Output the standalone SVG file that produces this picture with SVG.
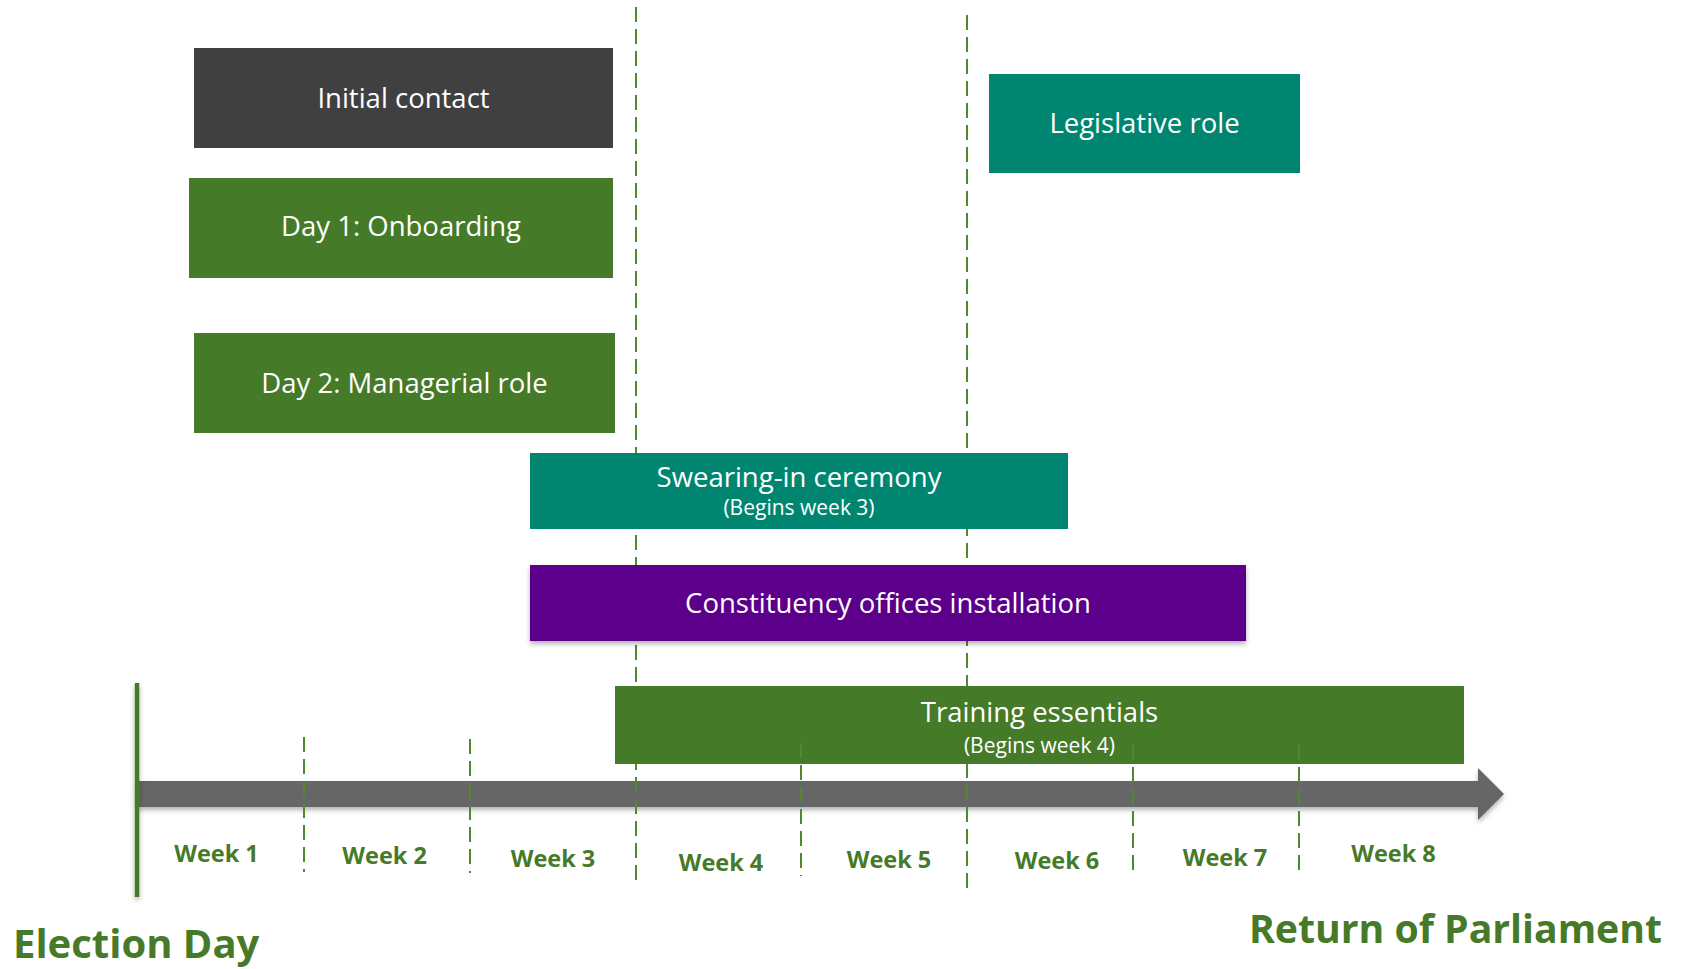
<svg xmlns="http://www.w3.org/2000/svg" width="1682" height="969" viewBox="0 0 1682 969">
<defs>
<style>
.box-text{font-family:"Open Sans","Noto Sans",sans-serif;fill:#ffffff;font-size:27.5px;text-anchor:middle}
.sub-text{font-family:"Open Sans","Noto Sans",sans-serif;fill:#ffffff;font-size:21px;text-anchor:middle}
.week{font-family:"Open Sans","Noto Sans",sans-serif;fill:#467a28;font-size:23.5px;font-weight:bold;text-anchor:middle}
.big{font-family:"Open Sans","Noto Sans",sans-serif;fill:#467a28;font-size:40px;font-weight:bold}
.dash{stroke:#4f8a2e;stroke-width:2;stroke-dasharray:15 7;fill:none}
.green{fill:#457a28}
.teal{fill:#008670}
.purple{fill:#5c068c}
.dark{fill:#404040}
</style>
<filter id="shadow" filterUnits="userSpaceOnUse" x="0" y="0" width="1682" height="969">
<feDropShadow dx="0" dy="3" stdDeviation="2.5" flood-color="#000000" flood-opacity="0.3"/>
</filter>
</defs>
<rect width="1682" height="969" fill="#ffffff"/>

<g id="timeline-axis">
<polygon points="137,781 1478,781 1478,768 1504,794 1478,820 1478,807 137,807" fill="#666666" filter="url(#shadow)"/>
<rect x="134.8" y="683" width="4.5" height="214" fill="#457a28" filter="url(#shadow)"/>
</g>

<g id="connectors">
<line class="dash" x1="636" y1="7" x2="636" y2="880"/>
<line class="dash" x1="967" y1="15" x2="967" y2="888"/>
<line class="dash" x1="304" y1="737" x2="304" y2="872"/>
<line class="dash" x1="470" y1="739" x2="470" y2="873"/>
</g>

<g id="initial-contact">
<rect class="dark" x="194" y="48" width="419" height="100"/>
<text class="box-text" x="403.5" y="108">Initial contact</text>
</g>

<g id="day1-onboarding">
<rect class="green" x="189" y="178" width="424" height="100"/>
<text class="box-text" x="401" y="236">Day 1: Onboarding</text>
</g>

<g id="day2-managerial">
<rect class="green" x="194" y="333" width="421" height="100"/>
<text class="box-text" x="404.5" y="392.5">Day 2: Managerial role</text>
</g>

<g id="legislative-role">
<rect class="teal" x="989" y="74" width="311" height="99"/>
<text class="box-text" x="1144.5" y="133">Legislative role</text>
</g>

<g id="swearing-in">
<rect class="teal" x="530" y="453" width="538" height="76"/>
<text class="box-text" x="799" y="486.5">Swearing-in ceremony</text>
<text class="sub-text" x="799" y="515">(Begins week 3)</text>
</g>

<g id="constituency-offices">
<rect class="purple" x="530" y="565" width="716" height="76" filter="url(#shadow)"/>
<text class="box-text" x="888" y="612.5">Constituency offices installation</text>
</g>

<g id="training-essentials">
<rect class="green" x="615" y="686" width="849" height="78"/>
<text class="box-text" x="1039.5" y="721.5">Training essentials</text>
<text class="sub-text" x="1039.5" y="752.5">(Begins week 4)</text>
</g>

<g id="week-dividers">
<line class="dash" x1="801" y1="743" x2="801" y2="876"/>
<line class="dash" x1="1133" y1="745" x2="1133" y2="873"/>
<line class="dash" x1="1299" y1="745" x2="1299" y2="876"/>
</g>

<g id="week-labels">
<text class="week" x="216.5" y="861.7">Week 1</text>
<text class="week" x="384.6" y="864.3">Week 2</text>
<text class="week" x="553" y="866.7">Week 3</text>
<text class="week" x="721" y="870.7">Week 4</text>
<text class="week" x="889" y="868">Week 5</text>
<text class="week" x="1057" y="869">Week 6</text>
<text class="week" x="1225" y="865.7">Week 7</text>
<text class="week" x="1393.5" y="862.3">Week 8</text>
</g>

<g id="election-day">
<text class="big" x="13" y="957.7">Election Day</text>
</g>

<g id="return-of-parliament">
<text class="big" x="1662" y="942.7" text-anchor="end" textLength="413" lengthAdjust="spacingAndGlyphs">Return of Parliament</text>
</g>
</svg>
